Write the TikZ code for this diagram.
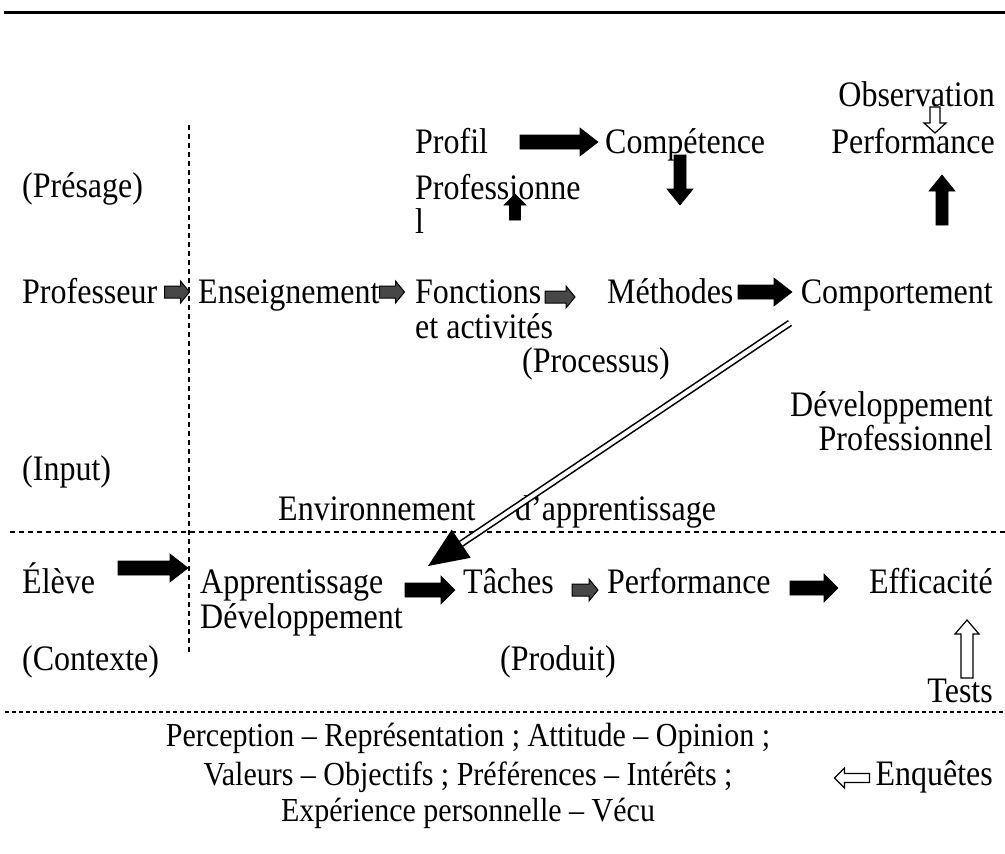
\documentclass[tikz,border=0pt]{standalone}
\usepackage{graphicx}
\usepackage{fontspec}
\setmainfont{Liberation Serif}
\usetikzlibrary{calc}
\newcommand\T[1]{\scalebox{1}[1.12]{#1}}
\tikzset{
 txt/.style={anchor=base west, inner sep=0pt, font=\fontsize{32}{36}\selectfont},
 txtr/.style={txt, anchor=base east},
 txtc/.style={anchor=base, inner sep=0pt, font=\fontsize{30}{34}\selectfont},
 blk/.style={fill=black, draw=black, line width=0.6pt},
 gry/.style={fill=black!72, draw=black, line width=1pt},
 hol/.style={fill=white, draw=black, line width=1.2pt},
 sepline/.style={dash pattern=on 5pt off 4pt, line width=1.5pt},
 sepdense/.style={dash pattern=on 4pt off 3pt, line width=2.2pt},
}
% #1 style, #2 x, #3 y, #4 angle, #5 length, #6 shaft width, #7 head width, #8 head length
\newcommand\barrow[8]{%
 \begin{scope}[shift={(#2,#3)},rotate=#4]
 \filldraw[#1] ({-#5/2},{-#6/2}) -- ({#5/2-#8},{-#6/2}) -- ({#5/2-#8},{-#7/2}) -- ({#5/2},0)
   -- ({#5/2-#8},{#7/2}) -- ({#5/2-#8},{#6/2}) -- ({-#5/2},{#6/2}) -- cycle;
 \end{scope}}
\begin{document}
\begin{tikzpicture}[x=1pt,y=-1pt]
\useasboundingbox (0,0) rectangle (1005,854);
% separators
\draw[line width=3pt] (4,12) -- (1005,12);
\draw[sepline] (189,125) -- (189,652);
\draw[sepline] (10,532) -- (1005,532);
\draw[sepdense] (5,712) -- (1005,712);

% texts
\node[txtr] (obs) at (995,106) {\T{Observation}};
\node[txt] (profil) at (415,153) {\T{Profil}};
\node[txt] (comp) at (605,153) {\T{Compétence}};
\node[txtr] (perf1) at (995,153) {\T{Performance}};
\node[txt] (presage) at (22,197) {\T{(Présage)}};
\node[txt] (prof2) at (415,199) {\T{Professionne}};
\node[txt] (prof3) at (415,233) {\T{l}};
\node[txt] (profess) at (22,303) {\T{Professeur}};
\node[txt] (ens) at (198,303) {\T{Enseignement}};
\node[txt] (fonc) at (415,303) {\T{Fonctions}};
\node[txt] (meth) at (607,303) {\T{Méthodes}};
\node[txtr] (compt) at (993,303) {\T{Comportement}};
\node[txt] (etact) at (415,338) {\T{et activités}};
\node[txt] (proc) at (522,372) {\T{(Processus)}};
\node[txtr] (dev1) at (993,416) {\T{Développement}};
\node[txtr] (devp) at (993,450) {\T{Professionnel}};
\node[txt] (input) at (22,480) {\T{(Input)}};
\node[txt] (env) at (278,520) {\T{Environnement}};
\node[txt] (dapp) at (515,520) {\T{d’apprentissage}};
\node[txt] (eleve) at (22,593) {\T{Élève}};
\node[txt] (appr) at (200,593) {\T{Apprentissage}};
\node[txt] (dev2) at (200,628) {\T{Développement}};
\node[txt] (taches) at (463,593) {\T{Tâches}};
\node[txt] (perf2) at (607,593) {\T{Performance}};
\node[txtr] (eff) at (993,593) {\T{Efficacité}};
\node[txt] (contexte) at (22,670) {\T{(Contexte)}};
\node[txt] (produit) at (500,670) {\T{(Produit)}};
\node[txtr] (tests) at (993,702) {\T{Tests}};
\node[txtc] (l1) at (468,746) {\T{Perception – Représentation ; Attitude – Opinion ;}};
\node[txtc] (l2) at (468,785) {\T{Valeurs – Objectifs ; Préférences – Intérêts ;}};
\node[txtc] (l3) at (468,821) {\T{Expérience personnelle – Vécu}};
\node[txtr] (enq) at (993,785) {\T{Enquêtes}};

% block arrows
\barrow{hol}{935}{120}{-90}{26}{10}{22}{10}
\barrow{blk}{559}{142}{0}{78}{14}{28}{18}
\barrow{blk}{515}{207}{90}{26}{11}{22}{11}
\barrow{blk}{680}{180}{-90}{50}{12}{26}{16}
\barrow{blk}{942}{200}{90}{50}{12}{26}{16}
\barrow{gry}{177}{292}{0}{25}{12}{22}{9}
\barrow{gry}{392}{292}{0}{25}{12}{22}{9}
\barrow{gry}{560}{297}{0}{30}{12}{22}{9}
\barrow{blk}{765}{292}{0}{54}{14}{28}{18}
\barrow{blk}{153}{568}{0}{70}{14}{28}{18}
\barrow{blk}{430}{590}{0}{50}{14}{28}{14}
\barrow{gry}{585}{590}{0}{26}{12}{22}{9}
\barrow{blk}{814}{588}{0}{48}{14}{28}{14}
\barrow{hol}{967}{649}{90}{58}{12}{24}{14}
\barrow{hol}{852}{778}{180}{35}{9}{20}{10}

% double arrow Comportement -> Apprentissage
\coordinate (ds) at (790,323);
\coordinate (de) at (428,566);
\coordinate (hb) at ($(de)!40pt!(ds)$);
\draw[double, double distance=4pt, line width=1.6pt] (ds) -- ($(de)!34pt!(ds)$);
\fill (de) -- ($(hb)!17pt!90:(de)$) -- ($(hb)!17pt!-90:(de)$) -- cycle;
\end{tikzpicture}
\end{document}
